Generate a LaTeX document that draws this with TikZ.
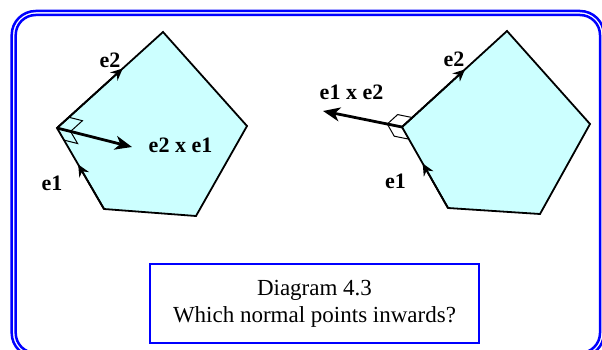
\documentclass[tikz,border=0pt]{standalone}
\usepackage{fontspec}
\setmainfont{Liberation Serif}
\usetikzlibrary{arrows.meta,calc}
\definecolor{polyfill}{HTML}{CCFFFF}
\definecolor{framblue}{HTML}{0000FF}
\tikzset{
  poly/.style={draw=black, fill=polyfill, line width=1.8pt, line join=miter},
  edgearrow/.style={line width=1.8pt, -{Stealth[length=12pt,width=11pt,inset=4pt]}},
  normalarrow/.style={line width=2.8pt, -{Stealth[length=17pt,width=14pt,inset=5pt]}},
  marker/.style={draw=black, line width=1pt, line join=miter},
  lbl/.style={font=\fontsize{22}{24}\selectfont\bfseries, anchor=base, inner sep=0pt},
  frameline/.style={draw=framblue, line width=2.5pt},
  captionbox/.style={draw=framblue, line width=2.8pt, fill=white, minimum width=329pt, minimum height=79pt, align=center, inner sep=0pt, font=\fontsize{23}{27}\selectfont}
}
\begin{document}
\begin{tikzpicture}[x=1pt,y=-1pt]
\useasboundingbox (0,0) rectangle (602,350);
% frame
\draw[frameline, rounded corners=24pt] (11.7,11) rectangle (604,357);
\draw[frameline, rounded corners=20pt] (15.7,15) rectangle (600,353);
% left pentagon
\coordinate (LT) at (163,32);
\coordinate (LR) at (247,126);
\coordinate (LBR) at (196,216);
\coordinate (LBL) at (104,209);
\coordinate (LL) at (57,128);
\coordinate (LN) at (132,147);
\draw[poly] (LT) -- (LR) -- (LBR) -- (LBL) -- (LL) -- cycle;
% right-angle markers (left)
\coordinate (LU1) at ($(LL)!16pt!(LT)$);
\coordinate (LN1) at ($(LL)!14pt!(LN)$);
\coordinate (LD1) at ($(LL)!14pt!(LBL)$);
\draw[marker] (LL) -- (LU1) -- ($(LU1)+(LN1)-(LL)$) -- (LN1);
\draw[marker] (LL) -- (LD1) -- ($(LD1)+(LN1)-(LL)$) -- (LN1);
\draw[edgearrow] (LL) -- ($(LL)!0.62!(LT)$);
\draw[edgearrow] (LBL) -- ($(LBL)!0.55!(LL)$);
\draw[normalarrow] (LL) -- (LN);
\node[lbl] (le2) at (110,68) {e2};
\node[lbl] (le1) at (52,190) {e1};
\node[lbl] (le2xe1) at (180.5,152) {e2 x e1};
% right pentagon
\coordinate (RT) at (507,31);
\coordinate (RR) at (590,124);
\coordinate (RBR) at (540,214);
\coordinate (RBL) at (448,208);
\coordinate (RL) at (402,127);
\coordinate (RN) at (323,111);
\draw[poly] (RT) -- (RR) -- (RBR) -- (RBL) -- (RL) -- cycle;
\coordinate (RU1) at ($(RL)!14pt!(RT)$);
\coordinate (RN1) at ($(RL)!15pt!(RN)$);
\coordinate (RD1) at ($(RL)!14pt!(RBL)$);
\draw[marker] (RL) -- (RU1) -- ($(RU1)+(RN1)-(RL)$) -- (RN1);
\draw[marker] (RL) -- (RD1) -- ($(RD1)+(RN1)-(RL)$) -- (RN1);
\draw[edgearrow] (RL) -- ($(RL)!0.60!(RT)$);
\draw[edgearrow] (RBL) -- ($(RBL)!0.55!(RL)$);
\draw[normalarrow] (RL) -- (RN);
\node[lbl] (re2) at (454,67) {e2};
\node[lbl] (re1) at (395.5,188) {e1};
\node[lbl] (re1xe2) at (351.5,100) {e1 x e2};
% caption
\node[captionbox] (cap) at (314.5,303.5) {Diagram 4.3\\Which normal points inwards?};
\end{tikzpicture}
\end{document}
